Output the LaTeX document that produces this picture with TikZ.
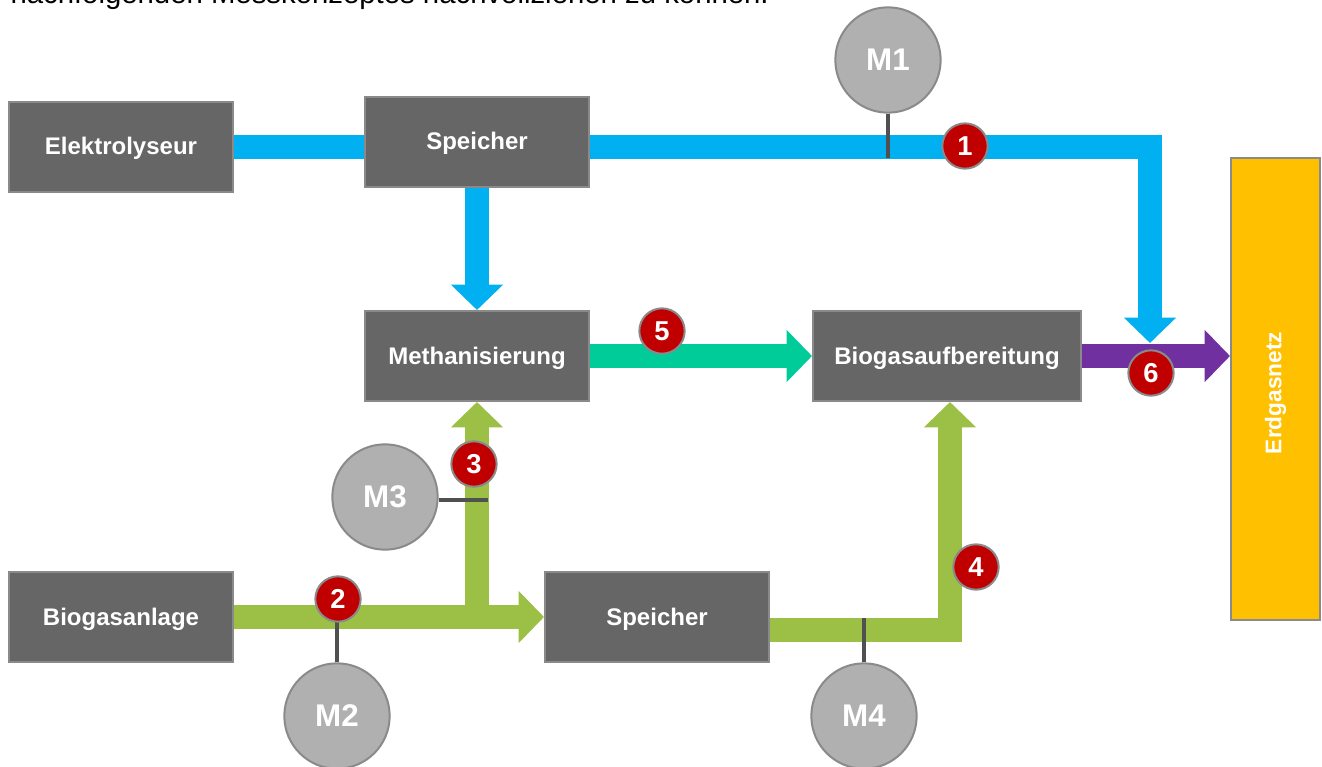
\documentclass[tikz,border=0pt]{standalone}
\usepackage{fontspec}
\setmainfont{Liberation Sans}
\usetikzlibrary{arrows.meta}

\definecolor{boxgray}{RGB}{102,102,102}
\definecolor{rimgray}{RGB}{138,138,138}
\definecolor{metergray}{RGB}{176,176,176}
\definecolor{pipeblue}{RGB}{0,176,240}
\definecolor{pipegreen}{RGB}{155,192,69}
\definecolor{pipeteal}{RGB}{0,204,153}
\definecolor{pipepurple}{RGB}{112,48,160}
\definecolor{gridorange}{RGB}{255,192,0}
\definecolor{markred}{RGB}{192,0,0}
\definecolor{stemgray}{RGB}{80,80,80}

\tikzset{every picture/.style={line width=0.75pt}}
\tikzset{
  plant/.style={draw=rimgray, line width=1.5pt, fill=boxgray, text=white, font=\bfseries\fontsize{18}{21}\selectfont, minimum width=168pt, minimum height=67.5pt, inner sep=0pt, text height=12pt, text depth=0pt},
  meter/.style={circle, draw=rimgray, line width=1.5pt, fill=metergray, text=white, font=\bfseries\fontsize{23.5}{26}\selectfont, minimum size=79pt, inner sep=0pt},
  marker/.style={circle, draw=rimgray, line width=1.5pt, fill=markred, text=white, font=\bfseries\fontsize{20.5}{23}\selectfont, minimum size=34pt, inner sep=0pt},
  pipe/.style={line width=18pt, line join=miter},
  flow/.style={pipe, -{Triangle[length=19pt, width=38pt]}},
  stem/.style={draw=stemgray, line width=2.6pt},
}

\begin{document}
\begin{tikzpicture}[x=0.75pt,y=0.75pt,yscale=-1,xscale=1]
    \useasboundingbox (0,0) rectangle (1322,767);

    % Text Node (cut off at the top)
    \begin{scope}
      \clip (0,0) rectangle (1322,767);
      \node [anchor=base west, inner sep=0pt, font=\fontsize{22}{26}\selectfont] (intro) at (10,4) {nachfolgenden Messkonzeptes nachvollziehen zu können.};
    \end{scope}

    %Shape: Rectangle
    \node [plant] (elektro) at (121,147) {Elektrolyseur};
    \node [plant] (speicherA) at (477,142) {Speicher};
    \node [plant] (methan) at (477,356) {Methanisierung};
    \node [plant, minimum width=201pt] (aufbereitung) at (947,356) {Biogasaufbereitung};
    \node [plant] (biogas) at (121,617) {Biogasanlage};
    \node [plant] (speicherB) at (657,617) {Speicher};
    \node [draw=rimgray, line width=1.5pt, fill=gridorange, minimum width=66.75pt, minimum height=346.5pt, inner sep=0pt] (erdgas) at (1275.5,389) {};
    % Text Node
    \node [rotate=90, text=white, font=\bfseries\fontsize{17}{20}\selectfont] (erdgaslabel) at (1275.5,393) {Erdgasnetz};

    %Shape: Circle
    \node [meter] (m1) at (888,60) {M1};
    \node [meter] (m2) at (337,716) {M2};
    \node [meter] (m3) at (385,497) {M3};
    \node [meter] (m4) at (864,716) {M4};

    \coordinate (bend1) at (1150,147);
    \coordinate (tip1) at (1150,343);
    \coordinate (bend4) at (950,630);

    %Straight Lines
    \draw [pipe, pipeblue] (elektro.east) -- (speicherA.west |- elektro.east);
    \draw [flow, pipeblue] (speicherA.east |- elektro.east) -- (bend1) -- (tip1);
    \draw [flow, pipeblue] (speicherA.south) -- (methan.north);
    \draw [flow, pipeteal] (methan.east) -- (aufbereitung.west);
    \draw [flow, pipepurple] (aufbereitung.east) -- (erdgas.west |- aufbereitung.east);
    \draw [flow, pipegreen] (biogas.east) -- (speicherB.west);
    \draw [flow, pipegreen] (methan.south |- biogas.east) -- (methan.south);
    \draw [flow, pipegreen] (speicherB.east |- bend4) -- (bend4) -- (bend4 |- aufbereitung.south);

    \coordinate (m1foot) at (888,158);
    \coordinate (m2foot) at (337,617);
    \coordinate (m3foot) at (488,500);
    \coordinate (m4foot) at (864,618);

    %Straight Lines
    \draw [stem] (m1.south) -- (m1foot);
    \draw [stem] (m2.north) -- (m2foot);
    \draw [stem] (m3.east |- m3foot) -- (m3foot);
    \draw [stem] (m4.north) -- (m4foot);

    %Shape: Circle
    \node [marker] (n1) at (965,146) {1};
    \node [marker] (n2) at (338,599) {2};
    \node [marker] (n3) at (474,464) {3};
    \node [marker] (n4) at (976,567) {4};
    \node [marker] (n5) at (662,331) {5};
    \node [marker] (n6) at (1151,373) {6};

\end{tikzpicture}
\end{document}
